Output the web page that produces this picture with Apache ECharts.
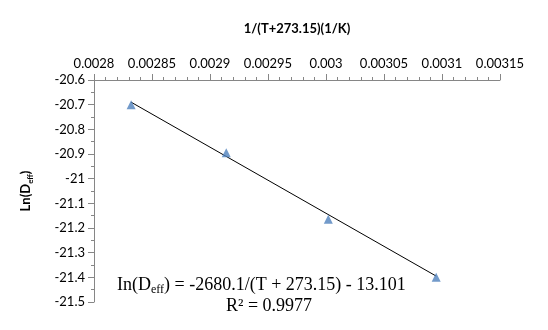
<!DOCTYPE html>
<html>
<head>
<meta charset="utf-8">
<script src="https://cdn.jsdelivr.net/npm/echarts@6/dist/echarts.min.js"></script>
<style>
  html, body { margin: 0; padding: 0; background: #fff; }
  #chart { width: 548px; height: 330px; }
</style>
</head>
<body>
<div id="chart"></div>
<script>
// measured points, 1/(T+273.15) vs ln(Deff)
const invT = [0.002832, 0.002914, 0.003002, 0.003095]
const lnDeff = [-20.70, -20.895, -21.165, -21.40]

// linear trendline ends
const trendX = [0.002832, 0.003095]
const trendY = [-20.69, -21.395]

const eqText = '-2680.1/(T + 273.15) - 13.101'
const r2Text = 'R² = 0.9977'

const axisGrey = '#868686'
const labelFont = 'Lato, "Open Sans", sans-serif'

const chart = echarts.init(document.getElementById('chart'))

chart.setOption({
  animation: false,
  grid: { left: 94, right: 48, top: 80, bottom: 28 },
  xAxis: {
    type: 'value',
    position: 'top',
    min: 0.0028,
    max: 0.00315,
    interval: 0.00005,
    name: '1/(T+273.15)(1/K)',
    nameLocation: 'middle',
    nameGap: 45,
    nameTextStyle: { fontFamily: labelFont, fontWeight: 'bold', fontSize: 13, color: '#000' },
    axisLine: { show: true, lineStyle: { color: axisGrey } },
    axisTick: { show: true, inside: false, length: 6, lineStyle: { color: axisGrey } },
    minorTick: { show: true, splitNumber: 5, length: 3, lineStyle: { color: axisGrey } },
    splitLine: { show: false },
    axisLabel: {
      fontFamily: labelFont, fontSize: 13, color: '#000', margin: 10,
      formatter: v => String(parseFloat(v.toFixed(5)))
    }
  },
  yAxis: {
    type: 'value',
    min: -21.5,
    max: -20.6,
    interval: 0.1,
    name: 'Ln(D{sub|eff})',
    nameLocation: 'middle',
    nameGap: 60,
    nameTextStyle: {
      fontFamily: labelFont, fontWeight: 'bold', fontSize: 13, color: '#000',
      rich: { sub: { fontFamily: labelFont, fontWeight: 'bold', fontSize: 8, padding: [8, 0, 0, 0] } }
    },
    axisLine: { show: true, lineStyle: { color: axisGrey } },
    axisTick: { show: true, inside: false, length: 6, lineStyle: { color: axisGrey } },
    minorTick: { show: true, splitNumber: 2, length: 3, lineStyle: { color: axisGrey } },
    splitLine: { show: false },
    axisLabel: {
      fontFamily: labelFont, fontSize: 13, color: '#000', margin: 9,
      formatter: v => String(parseFloat(v.toFixed(2)))
    }
  },
  series: [
    {
      type: 'line',
      data: trendX.map((x, i) => [x, trendY[i]]),
      symbol: 'none',
      lineStyle: { color: '#000', width: 1 },
      z: 1
    },
    {
      type: 'scatter',
      data: invT.map((x, i) => [x, lnDeff[i]]),
      symbol: 'triangle',
      symbolSize: 9,
      itemStyle: { color: '#4F81BD' },
      z: 2
    }
  ],
  graphic: [
    {
      type: 'text',
      left: 117,
      top: 276,
      style: {
        text: 'In(D{sub|eff}) = ' + eqText,
        font: '18px "Liberation Serif", serif',
        fill: '#000',
        rich: { sub: { font: '12px "Liberation Serif", serif', padding: [9, 0, 0, 0] } }
      }
    },
    {
      type: 'text',
      left: 226,
      top: 297,
      style: {
        text: r2Text,
        font: '18px "Liberation Serif", serif',
        fill: '#000'
      }
    }
  ]
})
</script>
</body>
</html>
